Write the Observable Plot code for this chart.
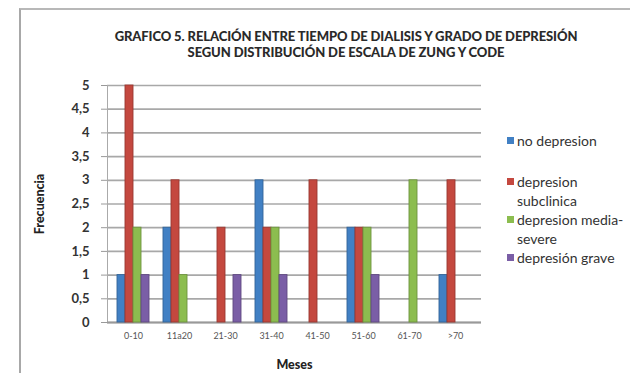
<!DOCTYPE html>
<html><head><meta charset="utf-8">
<script src="https://cdn.jsdelivr.net/npm/d3@7"></script>
<script src="https://cdn.jsdelivr.net/npm/@observablehq/plot@0.6"></script>
<style>
html,body{margin:0;padding:0;background:#fff;}
#wrap{position:relative;width:630px;height:373px;overflow:hidden;font-family:Lato,"Open Sans",sans-serif;}
#frame{position:absolute;left:19px;top:8px;width:640px;height:400px;border-left:2px solid #a8a8a8;border-top:2px solid #b8b8b8;}
#title{position:absolute;left:0;width:692px;top:28px;text-align:center;font-weight:900;font-size:13px;line-height:16px;color:#2a2a2a;letter-spacing:-0.1px;}
#legend{position:absolute;left:507px;top:131px;font-size:14px;color:#333;line-height:19px;}
.li{position:relative;padding-left:10px;}
.sw{position:absolute;left:0;top:6px;width:7px;height:7px;}
.layer{position:absolute;left:0;top:0;}
</style></head><body>
<div id="wrap">
<div id="frame"></div>
<div id="grid" class="layer"></div>
<div id="bars" class="layer"></div>
<div id="title">GRAFICO 5. RELACIÓN ENTRE TIEMPO DE DIALISIS Y GRADO DE DEPRESIÓN<br>SEGUN DISTRIBUCIÓN DE ESCALA DE ZUNG Y CODE</div>
<div id="legend"></div>
</div>
<script>
const categories = ["0-10","11a20","21-30","31-40","41-50","51-60","61-70",">70"];
const series = ["no depresion","depresion subclinica","depresion media-severe","depresión grave"];
const colors = ["#4180c4","#c4483f","#8cbd4f","#7a5ea6"];
const noDepresion = [1,2,0,3,0,2,0,1];
const subclinica = [5,3,2,2,3,2,0,3];
const mediaSevere = [2,1,0,2,0,2,3,0];
const grave = [1,0,1,1,0,1,0,0];
const yTicks = [0,0.5,1,1.5,2,2.5,3,3.5,4,4.5,5];

const cols = [noDepresion, subclinica, mediaSevere, grave];
const data = [];
categories.forEach((c,i)=>series.forEach((s,j)=>data.push({cat:c, serie:s, value:cols[j][i]})));

const common = {
  width:630, height:373,
  marginLeft:107, marginRight:149, marginTop:85, marginBottom:51,
  style:{fontFamily:"Lato, 'Open Sans', sans-serif", background:"transparent", color:"#333"}
};
const band = {paddingInner:0.27, paddingOuter:0.16};
const fmt = d=>String(d).replace(".",",");

const gridChart = Plot.plot({
  ...common,
  x:{domain:categories, ...band},
  y:{domain:[0,5]},
  marks:[
    Plot.gridY(yTicks,{stroke:"#999", strokeOpacity:0.85, strokeWidth:1.7}),
    Plot.frame({anchor:"left", stroke:"#aaa"}),
    Plot.ruleY([0],{stroke:"#999", strokeWidth:1.8}),
    Plot.axisY({ticks:yTicks, tickFormat:fmt, tickSize:6, tickPadding:12, fontSize:13, fontWeight:"bold", label:"Frecuencia", labelAnchor:"center", labelOffset:72, labelArrow:"none", stroke:"#999"}),
    Plot.axisX({tickSize:0, tickPadding:10, fontSize:9, fill:"#555", label:"Meses", labelAnchor:"center", labelOffset:46, labelArrow:"none"})
  ]
});
document.getElementById("grid").appendChild(gridChart);
gridChart.querySelectorAll('[aria-label="y-axis label"] text, [aria-label="x-axis label"] text').forEach(t=>{t.setAttribute("font-weight","900");t.setAttribute("font-size","12.5");t.setAttribute("fill","#222");});

const barChart = Plot.plot({
  ...common,
  fx:{domain:categories, ...band, axis:null},
  x:{domain:series, axis:null, padding:0.04},
  y:{domain:[0,5], axis:null},
  marks: series.map((s,j)=>Plot.barY(data.filter(d=>d.serie===s),{fx:"cat", x:"serie", y:"value", fill:colors[j], stroke:d3.color(colors[j]).darker(0.7).formatHex(), strokeWidth:0.9}))
});
document.getElementById("bars").appendChild(barChart);

const lg = document.getElementById("legend");
const items = [["no depresion",""],["depresion<br>subclinica","margin-top:22px"],["depresion media-<br>severe",""],["depresión grave",""]];
items.forEach((it,i)=>{const d=document.createElement("div");d.className="li";d.style.cssText=it[1];d.innerHTML=`<span class="sw" style="background:${colors[i]}"></span>${it[0]}`;lg.appendChild(d);});
</script>
</body></html>
